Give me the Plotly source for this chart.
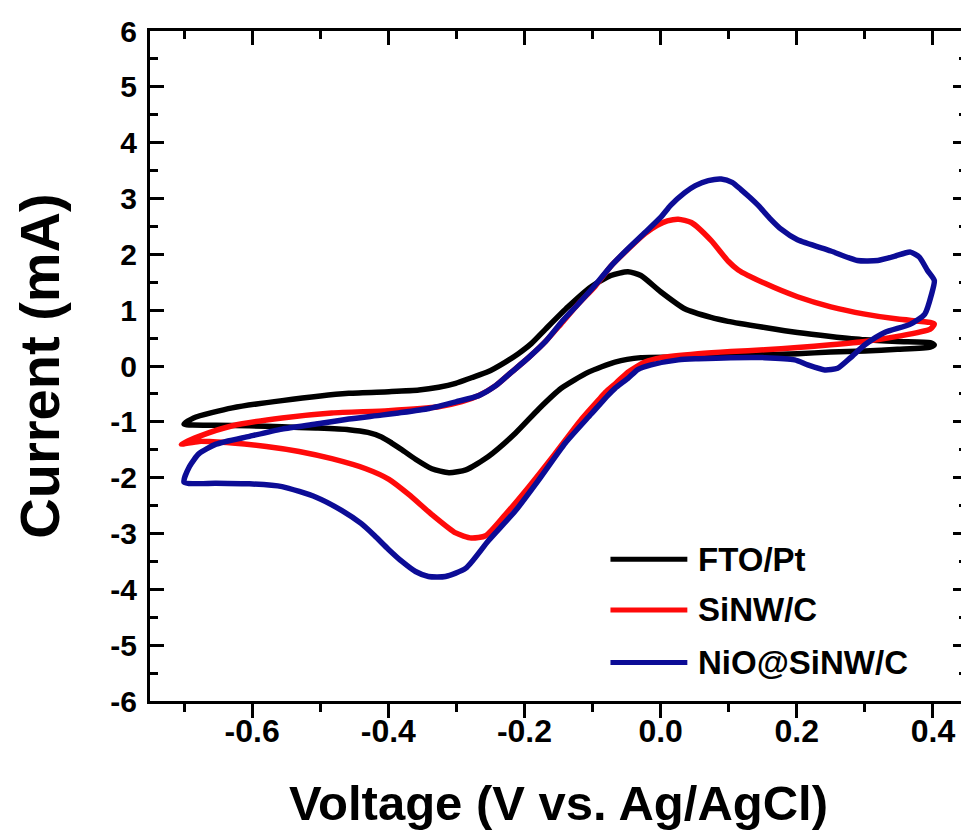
import plotly.graph_objects as go

# ---------------- data ----------------
series_names = ["FTO/Pt", "SiNW/C", "NiO@SiNW/C"]
series_colors = ["#000000", "#ff0a0a", "#0c0c96"]

# FTO/Pt : anodic sweep (left -> right) then cathodic sweep (right -> left)
fto_v = [-0.700, -0.686, -0.629, -0.556, -0.458, -0.399, -0.355, -0.326, -0.301, -0.278,
         -0.253, -0.228, -0.209, -0.190, -0.169, -0.136, -0.102, -0.073, -0.048, -0.029,
         0.000, 0.036, 0.074, 0.099, 0.153, 0.201, 0.250, 0.300, 0.348, 0.396, 0.402,
         0.396, 0.348, 0.300, 0.250, 0.201, 0.153, 0.099, 0.026, -0.029, -0.067,
         -0.106, -0.146, -0.179, -0.213, -0.253, -0.286, -0.311, -0.336, -0.360, -0.380,
         -0.395, -0.410, -0.430, -0.458, -0.506, -0.556, -0.604, -0.653, -0.700]
fto_i = [-1.04, -0.93, -0.75, -0.62, -0.49, -0.46, -0.43, -0.38, -0.31, -0.21,
         -0.10, 0.07, 0.22, 0.40, 0.66, 1.06, 1.42, 1.62, 1.69, 1.62,
         1.33, 1.02, 0.87, 0.80, 0.69, 0.60, 0.53, 0.47, 0.44, 0.42, 0.38,
         0.34, 0.30, 0.27, 0.25, 0.22, 0.20, 0.19, 0.16, 0.15, 0.07,
         -0.11, -0.40, -0.77, -1.20, -1.62, -1.86, -1.91, -1.84, -1.67, -1.50,
         -1.38, -1.27, -1.19, -1.14, -1.11, -1.09, -1.07, -1.06, -1.04]

# SiNW/C
sinw_v = [-0.704, -0.678, -0.629, -0.556, -0.483, -0.400, -0.326, -0.292, -0.267, -0.243,
          -0.219, -0.194, -0.169, -0.146, -0.121, -0.096, -0.073, -0.048, -0.023, -0.005,
          0.010, 0.026, 0.045, 0.074, 0.099, 0.114, 0.153, 0.201, 0.250, 0.300,
          0.348, 0.396, 0.402,
          0.396, 0.348, 0.300, 0.250, 0.201, 0.153, 0.103, 0.055, 0.001, -0.023,
          -0.048, -0.065, -0.081, -0.092, -0.116, -0.155, -0.194, -0.228, -0.257, -0.278,
          -0.301, -0.336, -0.370, -0.399, -0.433, -0.483, -0.531, -0.579, -0.629,
          -0.678, -0.704]
sinw_i = [-1.40, -1.26, -1.07, -0.93, -0.84, -0.80, -0.73, -0.64, -0.53, -0.36,
          -0.11, 0.15, 0.44, 0.76, 1.11, 1.43, 1.79, 2.09, 2.37, 2.52,
          2.60, 2.63, 2.57, 2.25, 1.88, 1.72, 1.48, 1.24, 1.06, 0.93,
          0.84, 0.78, 0.75,
          0.66, 0.53, 0.44, 0.38, 0.33, 0.29, 0.26, 0.22, 0.15, 0.07,
          -0.11, -0.30, -0.47, -0.62, -0.95, -1.57, -2.17, -2.66, -3.04, -3.08,
          -2.99, -2.66, -2.30, -2.03, -1.84, -1.66, -1.53, -1.44, -1.38,
          -1.35, -1.40]

# NiO@SiNW/C
nio_v = [-0.700, -0.692, -0.678, -0.653, -0.604, -0.556, -0.506, -0.458, -0.410, -0.385,
         -0.340, -0.300, -0.267, -0.243, -0.219, -0.194, -0.169, -0.146, -0.121, -0.096,
         -0.073, -0.048, -0.023, 0.000, 0.015, 0.035, 0.051, 0.070, 0.089, 0.105,
         0.118, 0.130, 0.143, 0.160, 0.177, 0.201, 0.250, 0.289, 0.319, 0.345, 0.358,
         0.367, 0.380, 0.392, 0.402,
         0.398, 0.388, 0.367, 0.329, 0.300, 0.279, 0.260, 0.241, 0.216, 0.197,
         0.153, 0.103, 0.055, 0.026, -0.014, -0.033, -0.048, -0.067, -0.077, -0.102,
         -0.140, -0.179, -0.213, -0.253, -0.286, -0.316, -0.341, -0.360, -0.380, -0.400,
         -0.420, -0.440, -0.468, -0.506, -0.556, -0.604, -0.653, -0.700]
nio_i = [-2.08, -1.80, -1.57, -1.40, -1.26, -1.13, -1.04, -0.95, -0.88, -0.84,
         -0.76, -0.64, -0.53, -0.36, -0.11, 0.15, 0.44, 0.78, 1.11, 1.45,
         1.79, 2.10, 2.39, 2.66, 2.88, 3.10, 3.23, 3.32, 3.35, 3.29,
         3.16, 3.03, 2.88, 2.65, 2.45, 2.26, 2.06, 1.89, 1.89, 1.97, 2.02,
         2.04, 1.95, 1.71, 1.53,
         1.29, 0.93, 0.75, 0.60, 0.38, 0.15, -0.04, -0.07, 0.02, 0.11,
         0.15, 0.15, 0.13, 0.11, 0.02, -0.06, -0.22, -0.40, -0.52, -0.86,
         -1.38, -2.04, -2.59, -3.13, -3.62, -3.77, -3.77, -3.68, -3.50, -3.28,
         -3.04, -2.82, -2.59, -2.35, -2.16, -2.11, -2.10, -2.08]

x_tick_vals = [-0.6, -0.4, -0.2, 0.0, 0.2, 0.4]
x_tick_text = ["-0.6", "-0.4", "-0.2", "0.0", "0.2", "0.4"]
y_tick_vals = [6, 5, 4, 3, 2, 1, 0, -1, -2, -3, -4, -5, -6]
y_tick_text = ["6", "5", "4", "3", "2", "1", "0", "-1", "-2", "-3", "-4", "-5", "-6"]

x_title = "Voltage (V vs. Ag/AgCl)"
y_title = "Current (mA)"

# ---------------- figure ----------------
FONT = "Arial, 'Liberation Sans', Helvetica, sans-serif"
fig = go.Figure()

all_v = [fto_v, sinw_v, nio_v]
all_i = [fto_i, sinw_i, nio_i]
for name, col, v, i in zip(series_names, series_colors, all_v, all_i):
    fig.add_trace(go.Scatter(x=v, y=i, mode="lines", name=name,
                             line=dict(color=col, width=5.5, shape="spline", smoothing=0.6),
                             showlegend=False))

# invisible trace for the top (mirrored) x axis with inward ticks
fig.add_trace(go.Scatter(x=[None], y=[None], xaxis="x2", showlegend=False, hoverinfo="skip"))

axis_font = dict(family=FONT, color="black", weight="bold")

# the page body adds an 8px offset; the figure is sized to compensate
fig.update_layout(
    width=961, height=822,
    margin=dict(l=142, r=2, t=23, b=129),
    paper_bgcolor="white", plot_bgcolor="white",
    showlegend=False,
    xaxis=dict(
        range=[-0.75, 0.45], tickvals=x_tick_vals, ticktext=x_tick_text,
        ticks="outside", ticklen=14, tickwidth=3, tickcolor="black",
        minor=dict(dtick=0.1, tick0=-0.7, ticks="outside", ticklen=8, tickwidth=3, tickcolor="black"),
        showline=True, linewidth=3, linecolor="black", mirror=True,
        showgrid=False, zeroline=False, automargin=False,
        ticklabelstandoff=-14,
        tickfont=dict(size=32, **axis_font),
        title=dict(text=x_title, font=dict(size=49, **axis_font), standoff=38),
    ),
    xaxis2=dict(
        overlaying="x", side="top", matches="x", range=[-0.75, 0.45],
        tickvals=x_tick_vals, showticklabels=False,
        ticks="inside", ticklen=14, tickwidth=3, tickcolor="black",
        minor=dict(dtick=0.1, tick0=-0.7, ticks="inside", ticklen=8, tickwidth=3, tickcolor="black"),
        showgrid=False, zeroline=False, showline=False, automargin=False,
    ),
    yaxis=dict(
        range=[-6, 6], tickvals=y_tick_vals, ticktext=y_tick_text,
        ticks="inside", ticklen=14, tickwidth=3, tickcolor="black",
        minor=dict(dtick=0.5, tick0=0, ticks="inside", ticklen=8, tickwidth=3, tickcolor="black"),
        showline=True, linewidth=3, linecolor="black", mirror="ticks",
        showgrid=False, zeroline=False, automargin=False,
        ticklabelstandoff=4,
        tickfont=dict(size=30, **axis_font),
        title=dict(text=y_title, font=dict(size=56, **axis_font), standoff=34),
    ),
)

# custom legend (line samples + labels)
leg_y = [0.2115, 0.136, 0.0574]
for name, col, ly in zip(series_names, series_colors, leg_y):
    fig.add_shape(type="line", xref="paper", yref="paper", x0=0.5636, x1=0.6577, y0=ly, y1=ly,
                  line=dict(color=col, width=5))
    fig.add_annotation(xref="paper", yref="paper", x=0.6687, y=ly, text=name, showarrow=False,
                       xanchor="left", yanchor="middle",
                       font=dict(family=FONT, size=33, color="black", weight="bold"))

fig.write_html("out.html")
